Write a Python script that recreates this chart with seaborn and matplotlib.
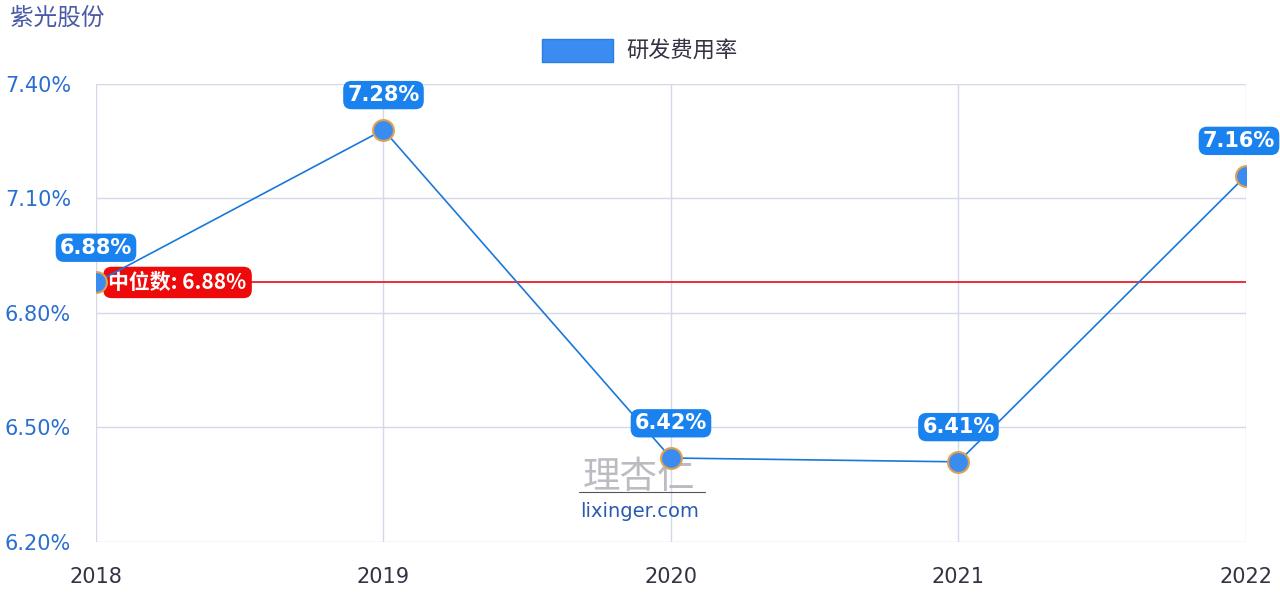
import matplotlib.pyplot as plt
import seaborn as sns
import pandas as pd
from matplotlib.patches import Patch

years = [2018, 2019, 2020, 2021, 2022]
rd_rate = [6.88, 7.28, 6.42, 6.41, 7.16]
median_rate = 6.88
y_ticks = [6.20, 6.50, 6.80, 7.10, 7.40]

df = pd.DataFrame({"year": years, "rate": rd_rate})

sns.set_style("white")
plt.rcParams['font.family'] = ['Noto Sans CJK SC', 'DejaVu Sans']

fig = plt.figure(figsize=(12.8, 6), dpi=100)
ax = fig.add_axes([0.075, 0.0967, 0.8984, 0.7633])

grid_c = "#d5d8e6"
for t in y_ticks:
    ax.axhline(t, color=grid_c, lw=1, zorder=0)
for yr in years:
    ax.axvline(yr, color=grid_c, lw=1, zorder=0)

ax.axhline(median_rate, color="#e8202a", lw=1.3, zorder=1)

sns.lineplot(data=df, x="year", y="rate", ax=ax, color="#1a78d8", lw=1.2,
             marker="o", markersize=15, markerfacecolor="#3b8cf0",
             markeredgecolor="#e0a050", markeredgewidth=1.5, zorder=3)

for i, (x, y) in enumerate(zip(years, rd_rate)):
    dx = -5 if i == len(years) - 1 else 0
    ax.annotate(f"{y:.2f}%", (x, y), xytext=(dx, 25), textcoords="offset points",
                ha="center", va="center", color="white", fontsize=15, fontweight="bold",
                family="DejaVu Sans",
                bbox=dict(boxstyle="round,pad=0.2,rounding_size=0.4", fc="#1a82ee", ec="none"),
                zorder=5, annotation_clip=False)

ax.annotate(f"中位数: {median_rate:.2f}%", (years[0], median_rate), xytext=(9, 0),
            textcoords="offset points", ha="left", va="center", color="white",
            fontsize=15, fontweight="bold",
            bbox=dict(boxstyle="round,pad=0.25,rounding_size=0.4", fc="#ee0a0a", ec="none"),
            zorder=2)

# watermark
ax.text(2019.89, 6.368, "理杏仁", ha="center", va="center", fontsize=27,
        color="#b0b0b8", alpha=0.85, zorder=2)
ax.plot([2019.68, 2020.12], [6.331, 6.331], color="#555555", lw=0.8, zorder=2)
ax.text(2019.89, 6.281, "lixinger.com", ha="center", va="center", fontsize=14,
        color="#2a5ab0", zorder=2, family="DejaVu Sans")

ax.set_xlim(2018, 2022)
ax.set_ylim(6.20, 7.40)
ax.set_yticks(y_ticks)
ax.set_yticklabels([f"{t:.2f}%" for t in y_ticks], color="#2a6fd0", fontsize=15,
                   family="DejaVu Sans")
ax.set_xticks(years)
ax.set_xticklabels([str(y) for y in years], color="#333344", fontsize=15,
                   family="DejaVu Sans")
ax.tick_params(axis="y", length=12, color=grid_c, pad=6)
ax.tick_params(axis="x", length=10, color=grid_c, pad=8)
ax.set_xlabel("")
ax.set_ylabel("")
for s in ax.spines.values():
    s.set_visible(False)

fig.text(0.008, 0.97, "紫光股份", fontsize=17, color="#4a5aa8", va="center")

leg = fig.legend(handles=[Patch(fc="#3b8cf0", ec="#2a7ee0", label="研发费用率")],
                 loc="center", bbox_to_anchor=(0.5, 0.915), frameon=False,
                 fontsize=16, handlelength=3.2, handleheight=1.2, handletextpad=0.6)
for t in leg.get_texts():
    t.set_color("#333344")

fig.savefig("out.png", dpi=100)
